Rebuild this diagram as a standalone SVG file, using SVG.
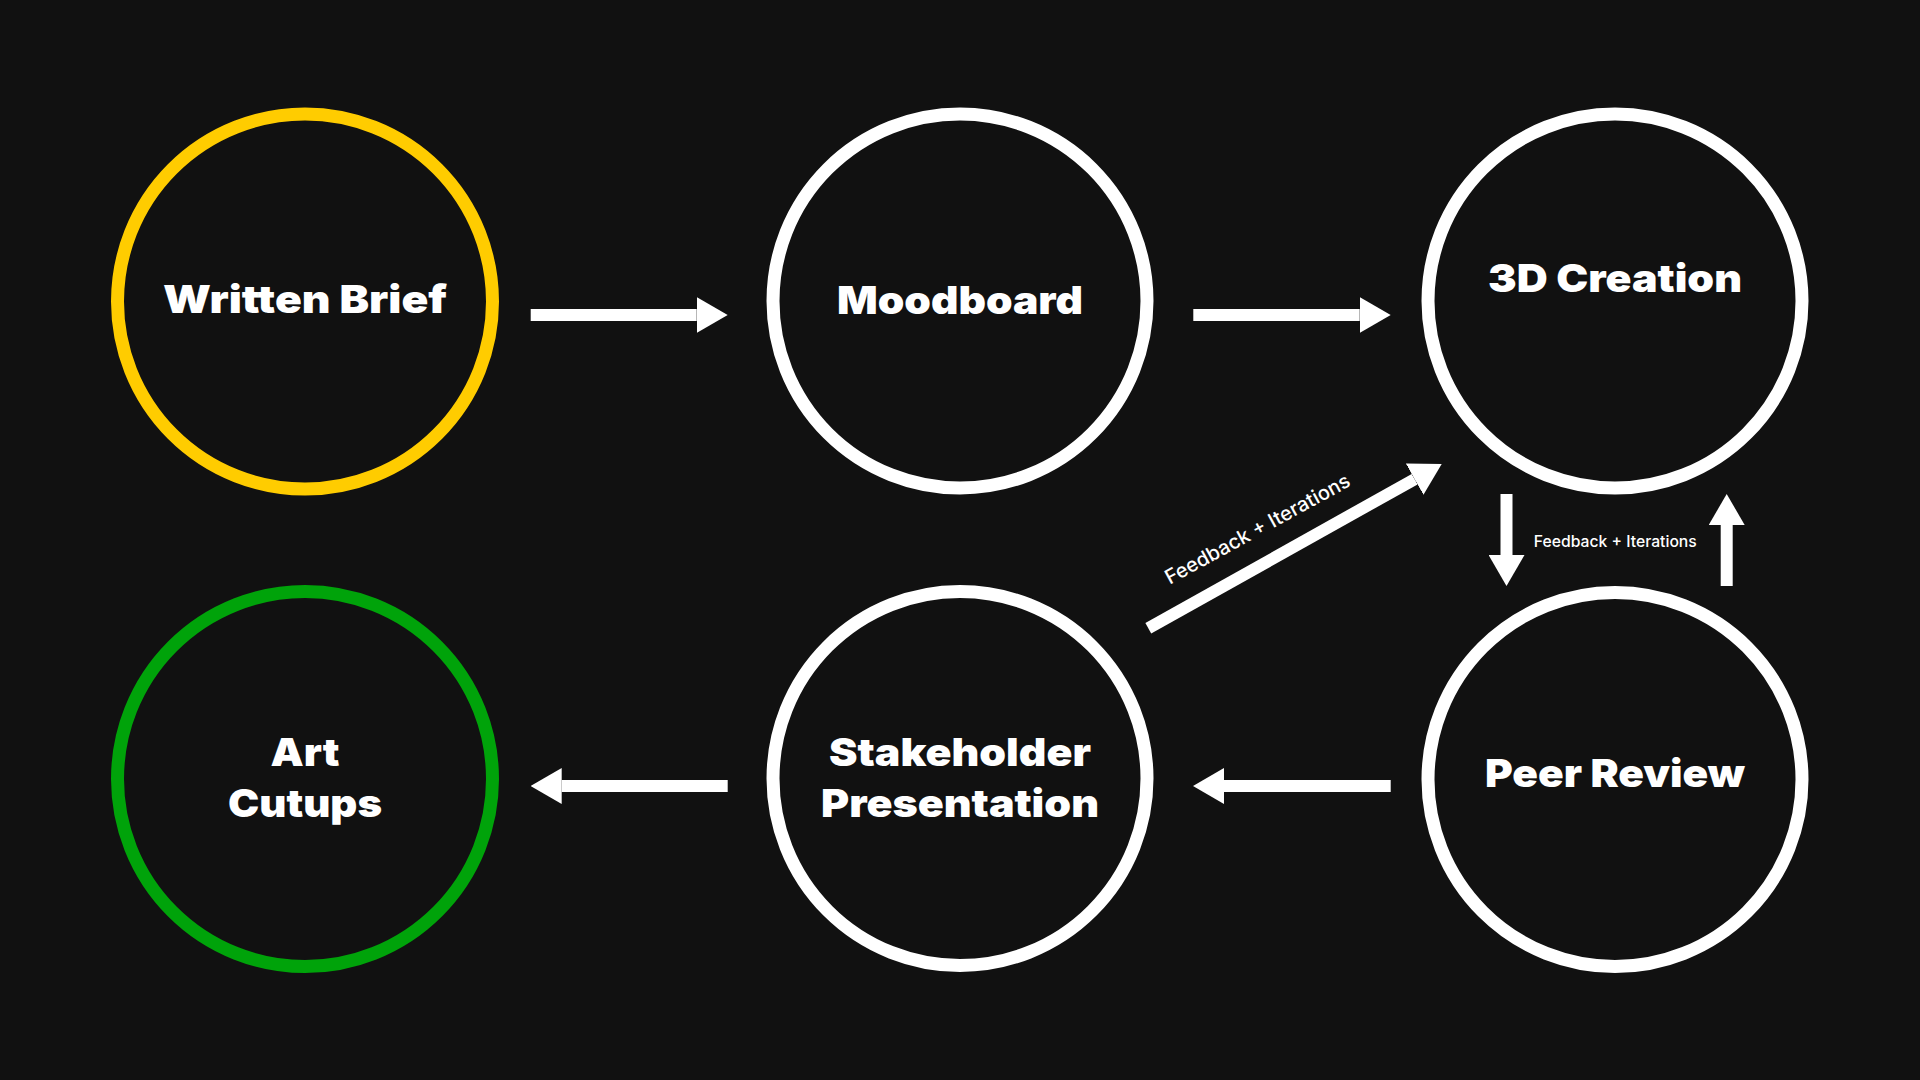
<svg xmlns="http://www.w3.org/2000/svg" width="1920" height="1080" viewBox="0 0 1920 1080">
  <style>
    .node { fill: #111111; stroke-width: 13; }
    .white { stroke: #ffffff; }
    .title { font-family: Inter, "Noto Sans", sans-serif; font-weight: 900; font-size: 39px; fill: #ffffff; text-anchor: middle; }
    .label { font-family: Inter, "Noto Sans", sans-serif; font-weight: 500; fill: #ffffff; text-anchor: middle; }
    .conn { stroke: #ffffff; stroke-width: 12; fill: none; stroke-linecap: butt; marker-end: url(#head); }
  </style>
  <defs>
    <marker id="head" markerUnits="userSpaceOnUse" markerWidth="31" markerHeight="36" refX="0" refY="18" orient="auto" viewBox="0 0 31 36">
      <path d="M0,0 L31,18 L0,36 Z" fill="#ffffff"/>
    </marker>
  </defs>
  <rect x="0" y="0" width="1920" height="1080" fill="#111111"/>

  <g id="connectors">
    <line class="conn" x1="530.7" y1="315" x2="696.7" y2="315"/>
    <line class="conn" x1="1193.3" y1="315" x2="1359.7" y2="315"/>
    <line class="conn" x1="1390.7" y1="786" x2="1224" y2="786"/>
    <line class="conn" x1="727.7" y1="786" x2="561.7" y2="786"/>
    <line class="conn" x1="1506.5" y1="494" x2="1506.5" y2="555"/>
    <line class="conn" x1="1726.7" y1="586" x2="1726.7" y2="525"/>
    <line class="conn" x1="1148.3" y1="628.3" x2="1414.65" y2="479.15"/>
    <text class="label" font-size="16" x="1615.3" y="546.7" textLength="163" lengthAdjust="spacingAndGlyphs">Feedback + Iterations</text>
    <text class="label" font-size="20" transform="translate(1260.8 535) rotate(-28.7)" x="0" y="0">Feedback + Iterations</text>
  </g>

  <g id="written-brief">
    <circle class="node" cx="305" cy="301.5" r="187.5" stroke="#ffcc00"/>
    <text class="title" x="305" y="313" textLength="284" lengthAdjust="spacingAndGlyphs">Written Brief</text>
  </g>
  <g id="moodboard">
    <circle class="node white" cx="960" cy="301" r="187"/>
    <text class="title" x="960" y="314" textLength="246" lengthAdjust="spacingAndGlyphs">Moodboard</text>
  </g>
  <g id="3d-creation">
    <circle class="node white" cx="1615" cy="301" r="187"/>
    <text class="title" x="1615" y="291.7" textLength="254" lengthAdjust="spacingAndGlyphs">3D Creation</text>
  </g>
  <g id="art-cutups">
    <circle class="node" cx="305" cy="779" r="187.5" stroke="#00a30a"/>
    <text class="title" x="305" y="765.7" textLength="69" lengthAdjust="spacingAndGlyphs">Art</text>
    <text class="title" x="305" y="817.3" textLength="154" lengthAdjust="spacingAndGlyphs">Cutups</text>
  </g>
  <g id="stakeholder-presentation">
    <circle class="node white" cx="960" cy="778.5" r="187"/>
    <text class="title" x="960" y="765.7" textLength="262" lengthAdjust="spacingAndGlyphs">Stakeholder</text>
    <text class="title" x="960" y="816.7" textLength="278" lengthAdjust="spacingAndGlyphs">Presentation</text>
  </g>
  <g id="peer-review">
    <circle class="node white" cx="1615" cy="779.5" r="187"/>
    <text class="title" x="1615" y="786.7" textLength="260" lengthAdjust="spacingAndGlyphs">Peer Review</text>
  </g>
</svg>
